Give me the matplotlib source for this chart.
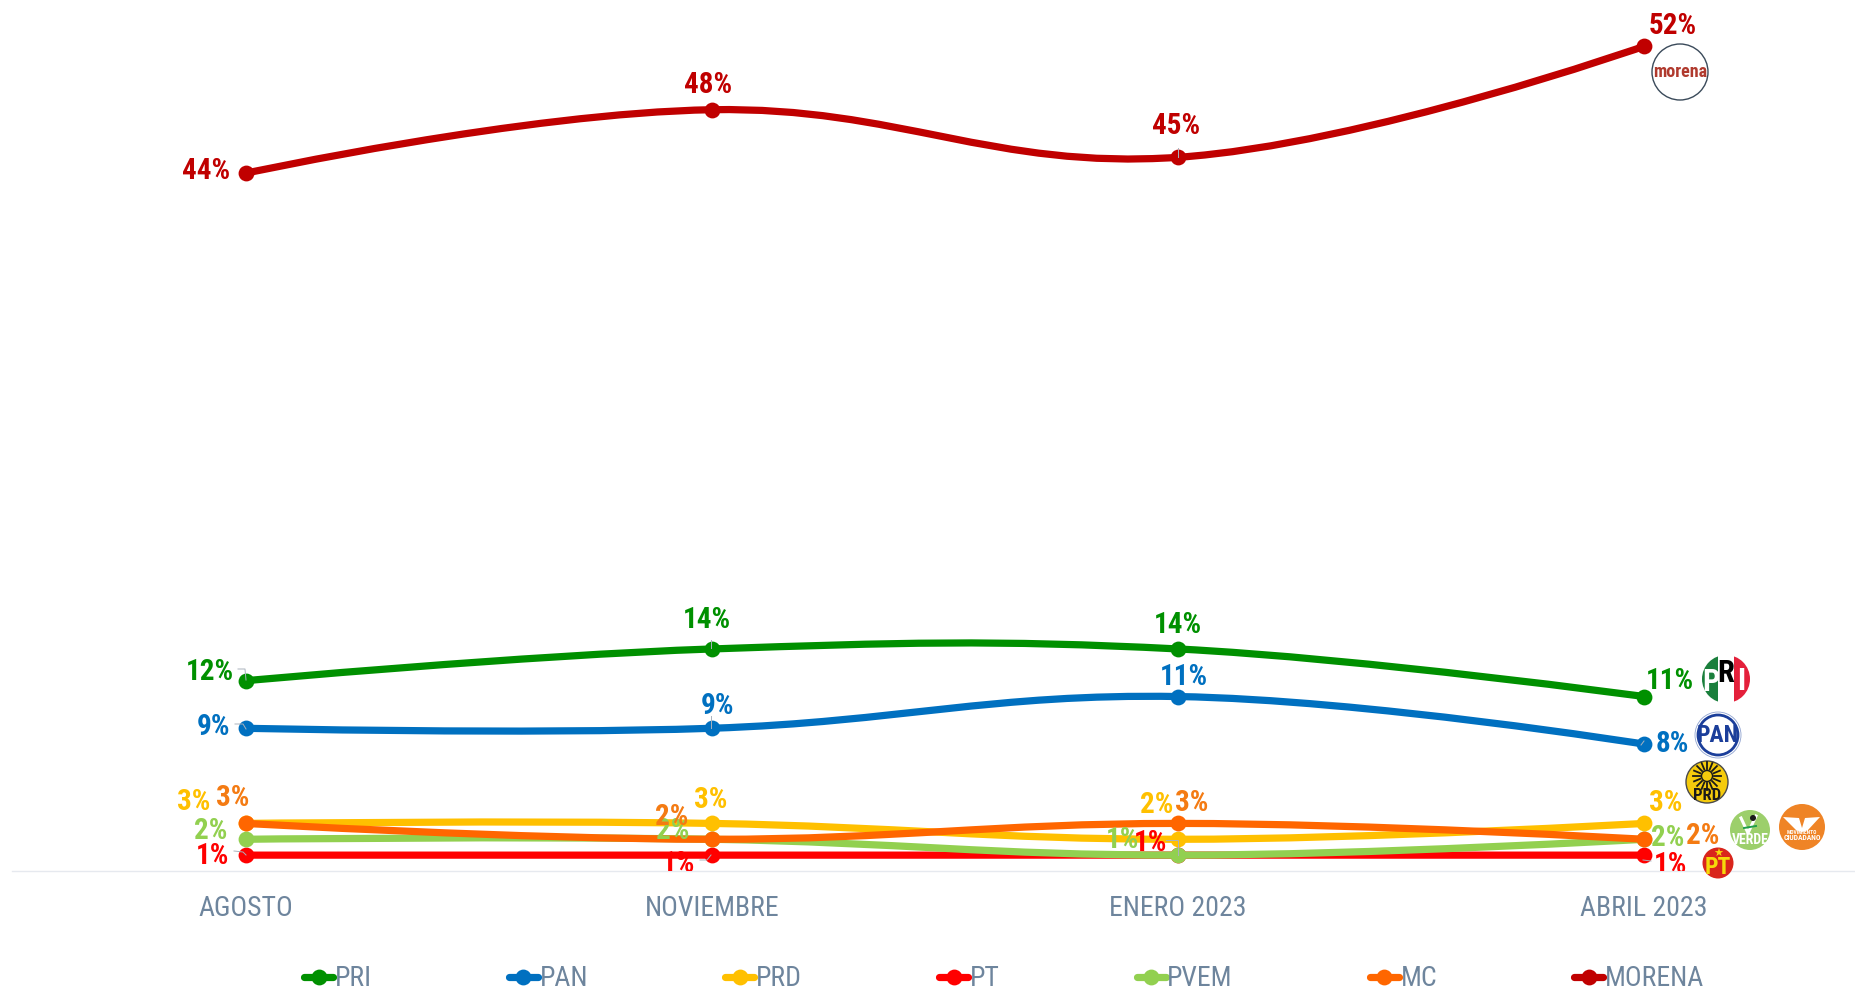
import numpy as np
import matplotlib
matplotlib.use('Agg')
import matplotlib.pyplot as plt
from matplotlib.lines import Line2D
from matplotlib.patches import Circle, PathPatch, Rectangle
from matplotlib.path import Path
from matplotlib.transforms import Affine2D

plt.rcParams['font.family'] = ['Roboto Condensed', 'DejaVu Sans']

# ─── DATA ────────────────────────────────────────────────────────
months = ["AGOSTO", "NOVIEMBRE", "ENERO 2023", "ABRIL 2023"]
pri = [12, 14, 14, 11]
pan = [9, 9, 11, 8]
prd = [3, 3, 2, 3]
pt = [1, 1, 1, 1]
pvem = [2, 2, 1, 2]
mc = [3, 2, 3, 2]
morena = [44, 48, 45, 52]

# name, values, line colour, label colour, label centres (pixels in the picture)
SERIES = [
    ("PRI", pri, "#009000", "#009000", [(210, 669), (707, 617), (1178, 622), (1670, 678)]),
    ("PAN", pan, "#0070C0", "#0070C0", [(214, 724), (718, 703), (1184, 674), (1672, 741)]),
    ("PRD", prd, "#FFC000", "#FFC000", [(194, 799), (711, 797), (1157, 802), (1666, 800)]),
    ("PT", pt, "#FF0000", "#FF0000", [(213, 853), (679, 861), (1151, 840), (1671, 862)]),
    ("PVEM", pvem, "#92D050", "#92D050", [(211, 828), (673, 828), (1122, 837), (1668, 835)]),
    ("MC", mc, "#FF6600", "#F47B13", [(233, 795), (672, 814), (1192, 800), (1703, 833)]),
    ("MORENA", morena, "#C00000", "#C00000", [(206, 168), (708, 82), (1176, 123), (1673, 23)]),
]

# ─── LAYOUT (pixels) ─────────────────────────────────────────────
W, H = 1855, 991
BASE_Y = 871
PX_PER_PCT = 15.86
X_FIRST, X_STEP = 246, 466
LEFT = 12
SLATE = "#6E859D"
LINE_W = 5.2
MARKER = 11.4

# thin leader lines next to some of the labels
LEADERS = [
    [(238, 669), (245, 669), (246, 680)],
    [(235, 724), (243, 724), (246, 729)],
    [(234, 851), (243, 852), (246, 855)],
    [(700, 860), (707, 860), (711, 855)],
    [(711, 640), (711, 648)],
    [(711, 716), (711, 728)],
    [(1178, 148), (1178, 157)],
    [(1166, 840), (1178, 840), (1178, 855)],
    [(1641, 745), (1644, 741)],
    [(1643, 860), (1651, 861)],
]


def spline_path(xs, ys, smoothing=1.5):
    """Smooth path through the points, control points as in a Highcharts spline."""
    n = len(xs)
    left, right = [None] * n, [None] * n
    denom = smoothing + 1
    for i in range(n):
        if i == 0 or i == n - 1:
            left[i] = right[i] = (xs[i], ys[i])
            continue
        lx = (smoothing * xs[i] + xs[i - 1]) / denom
        ly = (smoothing * ys[i] + ys[i - 1]) / denom
        rx = (smoothing * xs[i] + xs[i + 1]) / denom
        ry = (smoothing * ys[i] + ys[i + 1]) / denom
        corr = (ry - ly) * (rx - xs[i]) / (rx - lx) + ys[i] - ry
        left[i], right[i] = (lx, ly + corr), (rx, ry + corr)
    verts = [(xs[0], ys[0])]
    codes = [Path.MOVETO]
    for i in range(1, n):
        verts += [right[i - 1], left[i], (xs[i], ys[i])]
        codes += [Path.CURVE4] * 3
    return Path(verts, codes)


fig = plt.figure(figsize=(W / 100, H / 100), dpi=100, facecolor='white')
ax = fig.add_axes([LEFT / W, 1 - BASE_Y / H, (W - LEFT) / W, BASE_Y / H])
ax.set_xlim((LEFT - X_FIRST) / X_STEP, (W - X_FIRST) / X_STEP)
ax.set_ylim(0, BASE_Y / PX_PER_PCT)
for side in ['top', 'left', 'right']:
    ax.spines[side].set_visible(False)
ax.spines['bottom'].set_color('#E6E9EF')
ax.spines['bottom'].set_linewidth(1.0)
ax.set_yticks([])
ax.set_xticks(range(len(months)))
ax.set_xticklabels(months, fontsize=20, color=SLATE)
ax.tick_params(axis='x', length=0, pad=17)

# pixel coordinates of the picture, y going down
px = Affine2D().scale(1, -1).translate(0, H)

xs = list(range(len(months)))
for name, vals, color, label_color, label_pos in SERIES:
    patch = PathPatch(spline_path(xs, vals), fill=False, edgecolor=color, linewidth=LINE_W,
                      capstyle='round', zorder=3)
    ax.add_patch(patch)
    ax.plot(xs, vals, linestyle='none', marker='o', markersize=MARKER, color=color,
            markeredgewidth=0, zorder=3, clip_on=False)

for name, vals, color, label_color, label_pos in SERIES:
    for v, (lx, ly) in zip(vals, label_pos):
        ax.text(lx, ly, f"{v}%", transform=px, ha='center', va='center_baseline', fontsize=21,
                fontweight='bold', color=label_color, zorder=5, clip_on=True)

for pts in LEADERS:
    ax.plot(*zip(*pts), transform=px, color='#A9B2BD', linewidth=0.7, zorder=4, clip_on=False)

# ─── LEGEND ──────────────────────────────────────────────────────
handles = [Line2D([], [], color=s[2], linewidth=LINE_W, marker='o', markersize=MARKER,
                  markeredgewidth=0, solid_capstyle='round', label=s[0]) for s in SERIES]
fig.legend(handles=handles, ncol=7, loc='center left', bbox_to_anchor=(304 / W, 1 - 979 / H),
           frameon=False, fontsize=20, labelcolor=SLATE, handlelength=1.05, handletextpad=0.05,
           columnspacing=4.94, borderpad=0, borderaxespad=0)


# ─── PARTY LOGOS ─────────────────────────────────────────────────
def disc(cx, cy, r, face, edge='none', lw=0.0):
    c = Circle((cx, cy), r, facecolor=face, edgecolor=edge, linewidth=lw, transform=px,
               zorder=6, clip_on=False)
    ax.add_patch(c)
    return c


def logo_text(x, y, s, size, color, weight='bold'):
    ax.text(x, y, s, transform=px, ha='center', va='center', fontsize=size, fontweight=weight,
            color=color, zorder=8, clip_on=False)


# morena
disc(1680, 72, 28, 'white', '#3A4A5A', 1.0)
logo_text(1680, 72, "morena", 13, '#B03A2E')

# PRI
base = disc(1726, 679, 24, 'white')
for x0, w, col in [(1702, 16, '#1A7F3C'), (1734, 16, '#E4203B')]:
    r = Rectangle((x0, 655), w, 48, facecolor=col, edgecolor='none', transform=px, zorder=6)
    ax.add_patch(r)
    r.set_clip_path(base)
logo_text(1711, 682, "P", 22, 'white')
logo_text(1726, 673, "R", 22, 'black')
logo_text(1741, 681, "I", 22, 'white')

# PAN
disc(1718, 735, 23, 'white', '#8FA3D0', 0.6)
disc(1718, 735, 20, 'white', '#1B3E9A', 2.0)
logo_text(1718, 735, "PAN", 17, '#1B3E9A')

# PRD
disc(1707, 782, 21, '#F5CB0C', '#4A4A4A', 1.0)
sun_x, sun_y = 1707, 776
for ang in np.linspace(0, 2 * np.pi, 16, endpoint=False):
    ax.plot([sun_x + 7 * np.cos(ang), sun_x + 14 * np.cos(ang)],
            [sun_y + 7 * np.sin(ang), sun_y + 14 * np.sin(ang)], transform=px,
            color='#1A1A1A', linewidth=1.3, zorder=7, clip_on=False)
ax.add_patch(Circle((sun_x, sun_y), 5.5, facecolor='none', edgecolor='#1A1A1A', linewidth=1.0,
                    transform=px, zorder=7, clip_on=False))
logo_text(1707, 795, "PRD", 12, '#1A1A1A')

# PVEM
disc(1750, 830, 20, '#9CCF6B')
ax.plot([1741, 1748, 1756], [818, 833, 816], transform=px, color='white', linewidth=2.2,
        zorder=7, clip_on=False)
ax.plot([1744, 1756], [828, 826], transform=px, color='#1F9E4A', linewidth=1.4, zorder=7,
        clip_on=False)
ax.add_patch(Circle((1753, 818), 3, facecolor='#1A1A1A', edgecolor='none', transform=px,
                    zorder=7, clip_on=False))
logo_text(1750, 840, "VERDE", 10, 'white')

# MC
disc(1802, 827, 23, '#EF8426')
ax.add_patch(PathPatch(Path([(1783, 817), (1799, 818), (1802, 828), (1805, 818), (1820, 817),
                             (1808, 830), (1802, 832), (1796, 830), (1783, 817)]),
                       facecolor='white', edgecolor='none', transform=px, zorder=7, clip_on=False))
logo_text(1802, 832.5, "MOVIMIENTO", 4, 'white')
logo_text(1802, 837.5, "CIUDADANO", 5.5, 'white')

# PT
disc(1718, 863, 15.5, '#D9251C')
logo_text(1718, 854, "★", 8, '#F5D90A')
ax.texts[-1].set_fontfamily('DejaVu Sans')
logo_text(1718, 867, "PT", 17, '#F5D90A')

fig.savefig('out.png', dpi=100, facecolor='white')
